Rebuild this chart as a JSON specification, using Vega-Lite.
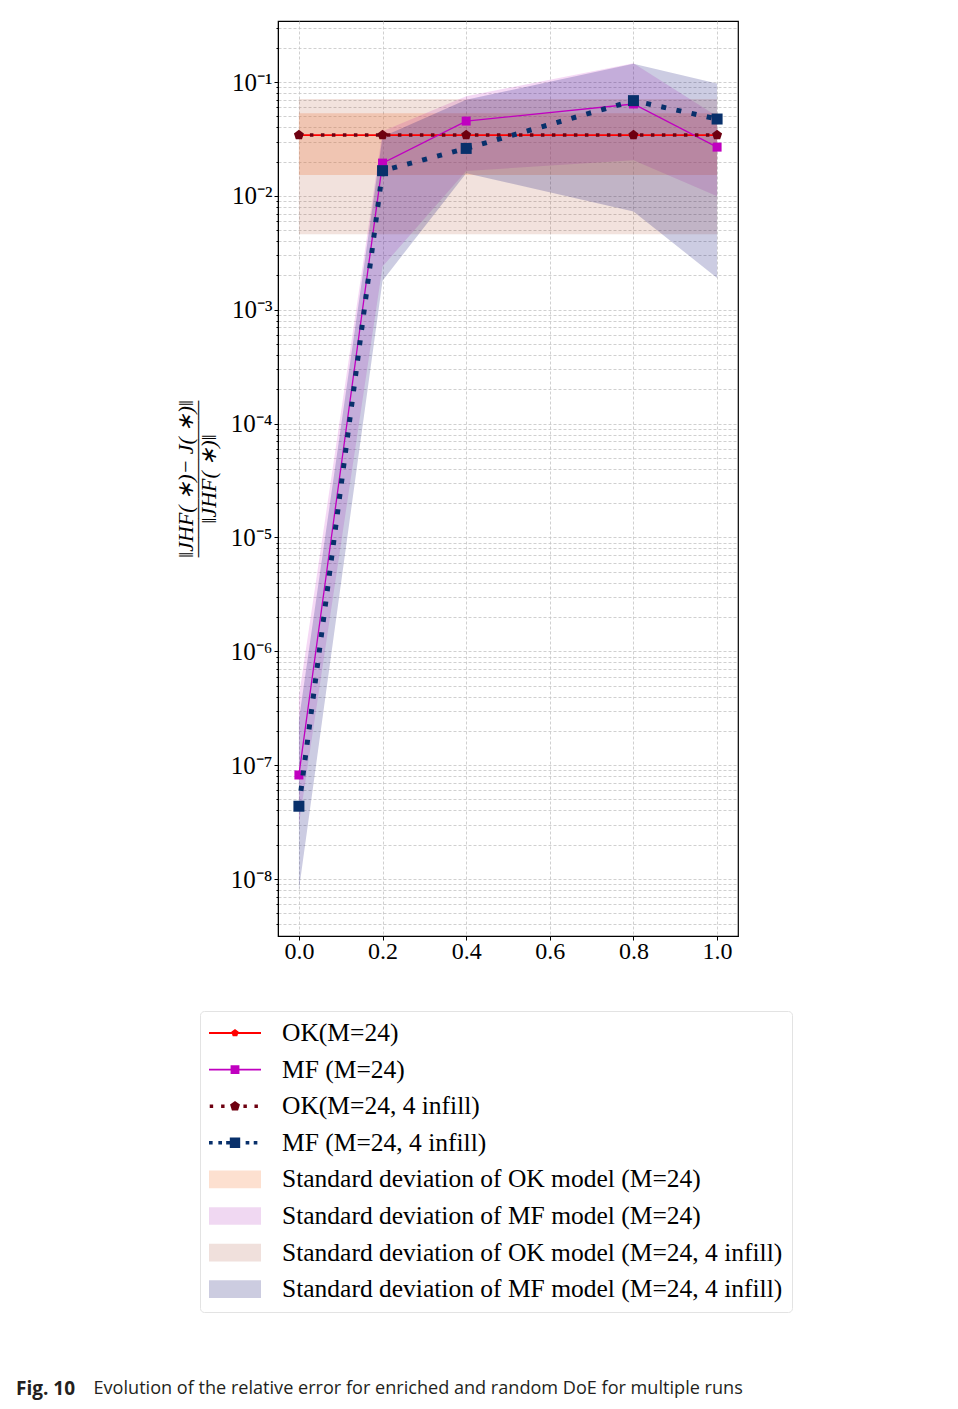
{
  "$schema": "https://vega.github.io/schema/vega-lite/v6.json",
  "width": 460,
  "height": 915,
  "autosize": {"type": "none"},
  "padding": {"left": 278, "top": 21, "right": 220, "bottom": 473},
  "background": "white",
  "config": {
    "view": {"stroke": "black", "strokeWidth": 1.2},
    "axis": {
      "domainColor": "black",
      "tickColor": "black",
      "labelColor": "black",
      "labelFont": "Liberation Serif",
      "labelFontSize": 24,
      "gridColor": "#c4c4c4",
      "gridDash": [3, 2],
      "gridWidth": 0.8
    }
  },
  "title": {
    "text": "Fig. 10",
    "orient": "top",
    "anchor": "start",
    "frame": "group",
    "offset": 0,
    "dx": -262,
    "dy": 1383,
    "font": "Open Sans",
    "fontSize": 19,
    "fontWeight": "bold",
    "color": "#231f20"
  },
  "datasets": {
    "bands": [
      {"band": "OK", "x": 0, "lo": 0.01524, "hi": 0.0531},
      {"band": "OK", "x": 0.2, "lo": 0.01524, "hi": 0.0531},
      {"band": "OK", "x": 0.4, "lo": 0.01524, "hi": 0.0531},
      {"band": "OK", "x": 0.8, "lo": 0.01524, "hi": 0.0531},
      {"band": "OK", "x": 1.0, "lo": 0.01524, "hi": 0.0531},
      {"band": "MF", "x": 0, "lo": 3e-8, "hi": 4e-7},
      {"band": "MF", "x": 0.2, "lo": 0.0024, "hi": 0.037},
      {"band": "MF", "x": 0.4, "lo": 0.0165, "hi": 0.075},
      {"band": "MF", "x": 0.8, "lo": 0.0206, "hi": 0.146},
      {"band": "MF", "x": 1.0, "lo": 0.0099, "hi": 0.05},
      {"band": "OKi", "x": 0, "lo": 0.00459, "hi": 0.071},
      {"band": "OKi", "x": 0.2, "lo": 0.00459, "hi": 0.071},
      {"band": "OKi", "x": 0.4, "lo": 0.00459, "hi": 0.071},
      {"band": "OKi", "x": 0.8, "lo": 0.00459, "hi": 0.071},
      {"band": "OKi", "x": 1.0, "lo": 0.00459, "hi": 0.071},
      {"band": "MFi", "x": 0, "lo": 8e-9, "hi": 2.5e-7},
      {"band": "MFi", "x": 0.2, "lo": 0.0018, "hi": 0.033},
      {"band": "MFi", "x": 0.4, "lo": 0.0158, "hi": 0.07},
      {"band": "MFi", "x": 0.8, "lo": 0.0073, "hi": 0.145},
      {"band": "MFi", "x": 1.0, "lo": 0.0019, "hi": 0.097}
    ],
    "lines": [
      {"series": "OK", "x": 0, "y": 0.0342},
      {"series": "OK", "x": 0.2, "y": 0.0342},
      {"series": "OK", "x": 0.4, "y": 0.0342},
      {"series": "OK", "x": 0.8, "y": 0.0342},
      {"series": "OK", "x": 1.0, "y": 0.0342},
      {"series": "MF", "x": 0, "y": 8.2e-8},
      {"series": "MF", "x": 0.2, "y": 0.0194},
      {"series": "MF", "x": 0.4, "y": 0.0454},
      {"series": "MF", "x": 0.8, "y": 0.0641},
      {"series": "MF", "x": 1.0, "y": 0.0268},
      {"series": "OKi", "x": 0, "y": 0.0342},
      {"series": "OKi", "x": 0.2, "y": 0.0342},
      {"series": "OKi", "x": 0.4, "y": 0.0342},
      {"series": "OKi", "x": 0.8, "y": 0.0342},
      {"series": "OKi", "x": 1.0, "y": 0.0342},
      {"series": "MFi", "x": 0, "y": 4.36e-8},
      {"series": "MFi", "x": 0.2, "y": 0.01664},
      {"series": "MFi", "x": 0.4, "y": 0.0261},
      {"series": "MFi", "x": 0.8, "y": 0.0686},
      {"series": "MFi", "x": 1.0, "y": 0.0473}
    ],
    "legendItems": [
      {"s": "OK(M=24)"},
      {"s": "MF (M=24)"},
      {"s": "OK(M=24, 4 infill)"},
      {"s": "MF (M=24, 4 infill)"},
      {"s": "Standard deviation of OK model (M=24)"},
      {"s": "Standard deviation of MF model (M=24)"},
      {"s": "Standard deviation of OK model (M=24, 4 infill)"},
      {"s": "Standard deviation of MF model (M=24, 4 infill)"}
    ]
  },
  "layer": [
    {
      "data": {"name": "bands"},
      "transform": [{"filter": "datum.band == 'OK'"}],
      "mark": {"type": "area", "color": "#f89862", "fillOpacity": 0.32},
      "encoding": {
        "x": {
          "field": "x", "type": "quantitative",
          "scale": {"domain": [-0.05, 1.05], "nice": false, "zero": false},
          "axis": {
            "values": [0, 0.2, 0.4, 0.6, 0.8, 1.0],
            "format": ".1f",
            "tickSize": 4,
            "labelPadding": -1,
            "title": "Evolution of the relative error for enriched and random DoE for multiple runs",
            "titleFont": "Open Sans",
            "titleFontSize": 18.1,
            "titleFontWeight": "normal",
            "titleColor": "#231f20",
            "titleAnchor": "start",
            "titleAlign": "left",
            "titleBaseline": "alphabetic",
            "titleX": -185,
            "titleY": 457
          }
        },
        "y": {
          "field": "lo", "type": "quantitative",
          "scale": {"type": "log", "domain": [3.16e-9, 0.3434], "nice": false},
          "axis": {
            "values": [4e-9, 5e-9, 6e-9, 7e-9, 8e-9, 9e-9,
              1e-8, 2e-8, 3e-8, 4e-8, 5e-8, 6e-8, 7e-8, 8e-8, 9e-8,
              1e-7, 2e-7, 3e-7, 4e-7, 5e-7, 6e-7, 7e-7, 8e-7, 9e-7,
              1e-6, 2e-6, 3e-6, 4e-6, 5e-6, 6e-6, 7e-6, 8e-6, 9e-6,
              1e-5, 2e-5, 3e-5, 4e-5, 5e-5, 6e-5, 7e-5, 8e-5, 9e-5,
              1e-4, 2e-4, 3e-4, 4e-4, 5e-4, 6e-4, 7e-4, 8e-4, 9e-4,
              0.001, 0.002, 0.003, 0.004, 0.005, 0.006, 0.007, 0.008, 0.009,
              0.01, 0.02, 0.03, 0.04, 0.05, 0.06, 0.07, 0.08, 0.09,
              0.1, 0.2, 0.3],
            "labelExpr": "abs(log(datum.value)/LN10 - round(log(datum.value)/LN10)) < 0.001 ? '10⁻' + ['⁰','¹','²','³','⁴','⁵','⁶','⁷','⁸','⁹'][-round(log(datum.value)/LN10)] : ''",
            "tickSize": {"condition": {"test": "abs(log(datum.value)/LN10 - round(log(datum.value)/LN10)) < 0.001", "value": 4}, "value": 2},
            "labelFontSize": 25,
            "labelPadding": 2,
            "labelOverlap": false,
            "title": ["‖JHF( ∗)− J( ∗)‖", "————————", "‖JHF( ∗)‖"],
            "titleFont": "Liberation Serif",
            "titleFontStyle": "italic",
            "titleFontWeight": "normal",
            "titleFontSize": 22,
            "titleLineHeight": 11.5,
            "titleColor": "black",
            "titlePadding": 10
          }
        },
        "y2": {"field": "hi"}
      }
    },
    {
      "data": {"name": "bands"},
      "transform": [{"filter": "datum.band == 'MF'"}],
      "mark": {"type": "area", "color": "#bf00bf", "fillOpacity": 0.15},
      "encoding": {
        "x": {"field": "x", "type": "quantitative", "scale": {"domain": [-0.05, 1.05], "nice": false, "zero": false}},
        "y": {"field": "lo", "type": "quantitative", "scale": {"type": "log", "domain": [3.16e-9, 0.3434], "nice": false}},
        "y2": {"field": "hi"}
      }
    },
    {
      "data": {"name": "bands"},
      "transform": [{"filter": "datum.band == 'OKi'"}],
      "mark": {"type": "area", "color": "#a03010", "fillOpacity": 0.14},
      "encoding": {
        "x": {"field": "x", "type": "quantitative", "scale": {"domain": [-0.05, 1.05], "nice": false, "zero": false}},
        "y": {"field": "lo", "type": "quantitative", "scale": {"type": "log", "domain": [3.16e-9, 0.3434], "nice": false}},
        "y2": {"field": "hi"}
      }
    },
    {
      "data": {"name": "bands"},
      "transform": [{"filter": "datum.band == 'MFi'"}],
      "mark": {"type": "area", "color": "#00006e", "fillOpacity": 0.2},
      "encoding": {
        "x": {"field": "x", "type": "quantitative", "scale": {"domain": [-0.05, 1.05], "nice": false, "zero": false}},
        "y": {"field": "lo", "type": "quantitative", "scale": {"type": "log", "domain": [3.16e-9, 0.3434], "nice": false}},
        "y2": {"field": "hi"}
      }
    },
    {
      "data": {"name": "lines"},
      "transform": [{"filter": "datum.series == 'OK'"}],
      "mark": {"type": "line", "color": "#ff0000", "strokeWidth": 1.8,
        "point": {"filled": true, "color": "#ff0000", "size": 40, "shape": "M0,-1L0.951,-0.309L0.588,0.809L-0.588,0.809L-0.951,-0.309Z"}},
      "encoding": {
        "x": {"field": "x", "type": "quantitative", "scale": {"domain": [-0.05, 1.05], "nice": false, "zero": false}},
        "y": {"field": "y", "type": "quantitative", "scale": {"type": "log", "domain": [3.16e-9, 0.3434], "nice": false}}
      }
    },
    {
      "data": {"name": "lines"},
      "transform": [{"filter": "datum.series == 'MF'"}],
      "mark": {"type": "line", "color": "#c000c0", "strokeWidth": 1.3,
        "point": {"filled": true, "color": "#c000c0", "size": 81, "shape": "square"}},
      "encoding": {
        "x": {"field": "x", "type": "quantitative", "scale": {"domain": [-0.05, 1.05], "nice": false, "zero": false}},
        "y": {"field": "y", "type": "quantitative", "scale": {"type": "log", "domain": [3.16e-9, 0.3434], "nice": false}}
      }
    },
    {
      "data": {"name": "lines"},
      "transform": [{"filter": "datum.series == 'OKi'"}],
      "mark": {"type": "line", "color": "#6e0010", "strokeWidth": 3.5, "strokeDash": [3.5, 7.5], "strokeCap": "butt",
        "point": {"filled": true, "color": "#6e0010", "size": 110, "shape": "M0,-1L0.951,-0.309L0.588,0.809L-0.588,0.809L-0.951,-0.309Z"}},
      "encoding": {
        "x": {"field": "x", "type": "quantitative", "scale": {"domain": [-0.05, 1.05], "nice": false, "zero": false}},
        "y": {"field": "y", "type": "quantitative", "scale": {"type": "log", "domain": [3.16e-9, 0.3434], "nice": false}}
      }
    },
    {
      "data": {"name": "lines"},
      "transform": [{"filter": "datum.series == 'MFi'"}],
      "mark": {"type": "line", "color": "#08306b", "strokeWidth": 5, "strokeDash": [5, 10.5], "strokeCap": "butt",
        "point": {"filled": true, "color": "#08306b", "size": 121, "shape": "square"}},
      "encoding": {
        "x": {"field": "x", "type": "quantitative", "scale": {"domain": [-0.05, 1.05], "nice": false, "zero": false}},
        "y": {"field": "y", "type": "quantitative", "scale": {"type": "log", "domain": [3.16e-9, 0.3434], "nice": false}}
      }
    },
    {
      "data": {"name": "legendItems"},
      "mark": {"type": "point", "filled": true, "opacity": 0},
      "encoding": {
        "fill": {
          "field": "s", "type": "nominal",
          "scale": {
            "domain": ["OK(M=24)", "MF (M=24)", "OK(M=24, 4 infill)", "MF (M=24, 4 infill)", "Standard deviation of OK model (M=24)", "Standard deviation of MF model (M=24)", "Standard deviation of OK model (M=24, 4 infill)", "Standard deviation of MF model (M=24, 4 infill)"],
            "range": ["#ff0000", "#c000c0", "#6e0010", "#08306b", "#fde0d0", "#f0d8f2", "#f0e0dc", "#ccccE0"]
          },
          "legend": {
            "orient": "none",
            "legendX": -78,
            "legendY": 990,
            "title": null,
            "symbolSize": 676,
            "symbolStrokeWidth": 0,
            "symbolOpacity": 1,
            "symbolOffset": 13,
            "labelFont": "Liberation Serif",
            "labelFontSize": 25.5,
            "labelColor": "black",
            "labelOffset": 34,
            "labelLimit": 0,
            "rowPadding": 9.6,
            "padding": 9,
            "strokeColor": "#e3e3e3",
            "fillColor": "white",
            "cornerRadius": 4,
            "encode": {"symbols": {"update": {"opacity": {"value": 1}, "fillOpacity": {"value": 1}}}}
          }
        },
        "shape": {
          "field": "s", "type": "nominal",
          "scale": {
            "domain": ["OK(M=24)", "MF (M=24)", "OK(M=24, 4 infill)", "MF (M=24, 4 infill)", "Standard deviation of OK model (M=24)", "Standard deviation of MF model (M=24)", "Standard deviation of OK model (M=24, 4 infill)", "Standard deviation of MF model (M=24, 4 infill)"],
            "range": [
              "M-2,-0.08H2V0.08H-2Z M0,-0.3L0.286,-0.092L0.176,0.242L-0.176,0.242L-0.286,-0.092Z",
              "M-2,-0.07H2V0.07H-2Z M-0.34,-0.34H0.34V0.34H-0.34Z",
              "M-1.944,-0.132H-1.68V0.132H-1.944Z M-1.068,-0.132H-0.804V0.132H-1.068Z M0.648,-0.132H0.912V0.132H0.648Z M1.498,-0.132H1.762V0.132H1.498Z M0,-0.4L0.38,-0.124L0.236,0.324L-0.236,0.324L-0.38,-0.124Z",
              "M-2,-0.14H-1.72V0.14H-2Z M-1.28,-0.14H-1V0.14H-1.28Z M-0.68,-0.14H-0.4V0.14H-0.68Z M-0.4,-0.4H0.4V0.4H-0.4Z M0.82,-0.14H1.1V0.14H0.82Z M1.44,-0.14H1.72V0.14H1.44Z",
              "M-2,-0.68H2V0.68H-2Z",
              "M-2,-0.68H2V0.68H-2Z",
              "M-2,-0.68H2V0.68H-2Z",
              "M-2,-0.68H2V0.68H-2Z"
            ]
          }
        }
      }
    }
  ]
}
